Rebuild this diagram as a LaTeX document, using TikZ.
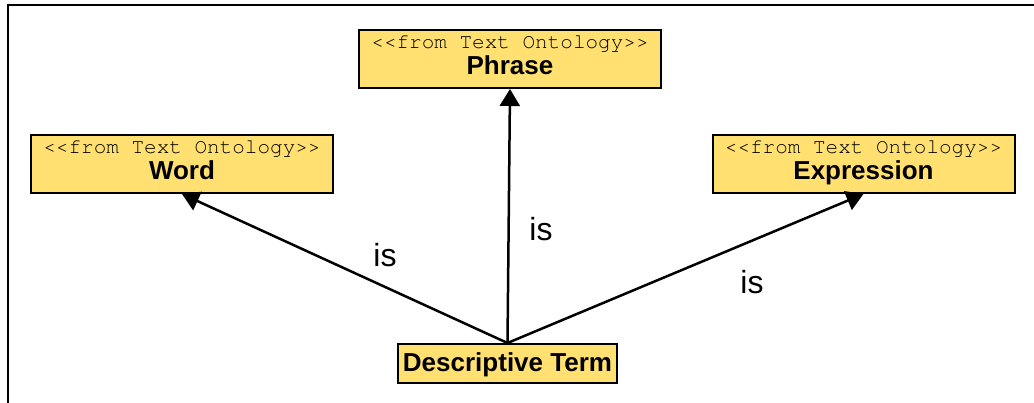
\documentclass[tikz,border=0pt]{standalone}
\usepackage{fontspec}
\setmainfont{Liberation Sans}
\setmonofont{TeX Gyre Cursor}
\usetikzlibrary{arrows.meta}
\definecolor{yellow1}{RGB}{255, 224, 112}

\newcommand{\stereo}[1]{{\ttfamily\mdseries\fontsize{21}{26}\selectfont <<#1>>}}

\begin{document}
\begin{tikzpicture}[x=1pt, y=-1pt, line width=2.5pt]
  \useasboundingbox (0,0) rectangle (1034,403);
  \tikzset{
    umlbox/.style={draw=black, fill=yellow1, line width=2pt, inner sep=0pt,
      align=center, minimum width=302pt, minimum height=58pt,
      text height=40pt, text depth=8pt,
      font=\fontsize{26}{26}\selectfont\bfseries},
    termbox/.style={umlbox, minimum width=219pt, minimum height=39pt,
      text height=19pt, text depth=2.6pt},
    isarrow/.style={-{Triangle[length=17pt,width=20pt]}},
    islabel/.style={font=\fontsize{32}{32}\selectfont, inner sep=0pt}
  }
  % frame
  \draw[line width=2.4pt] (8,403) -- (8,5) -- (1034,5);

  \node[umlbox] (word) at (182,164) {\stereo{from Text Ontology}\\Word};
  \node[umlbox] (phrase) at (510,59) {\stereo{from Text Ontology}\\Phrase};
  \node[umlbox] (expr) at (863.5,164) {\stereo{from Text Ontology}\\Expression};
  \node[termbox] (term) at (507.5,363.5) {Descriptive Term};

  \foreach \to in {word, phrase, expr}
    \draw[isarrow] (term.north) -- (\to.south);

  \node[islabel] (is1) at (385,255) {is};
  \node[islabel] (is2) at (541,229) {is};
  \node[islabel] (is3) at (752,282) {is};
\end{tikzpicture}
\end{document}
